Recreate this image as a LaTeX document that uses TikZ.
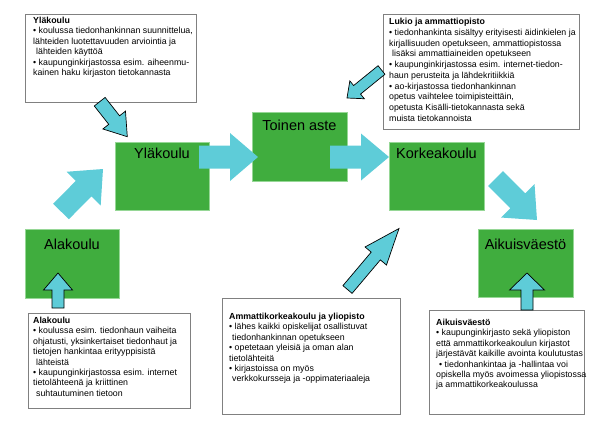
\documentclass[tikz,border=0pt]{standalone}
\usepackage{fontspec}
\setmainfont{Liberation Sans}
\usetikzlibrary{calc}
\definecolor{boxgreen}{RGB}{64,173,62}
\definecolor{boxgreenedge}{RGB}{150,215,150}
\definecolor{arrcyan}{RGB}{94,204,216}
\definecolor{framegray}{RGB}{128,128,128}
% block arrow: [style]{tail}{tip}{shaft half width}{head half width}{head length}
\newcommand{\blockarr}[6][]{%
  \coordinate (bah) at ($(#3)!#6!(#2)$);
  \path[blockarrow,#1] ($(#2)!#4!90:(#3)$) -- ($(bah)!#4!90:(#3)$) -- ($(bah)!#5!90:(#3)$) -- (#3)
     -- ($(bah)!#5!-90:(#3)$) -- ($(bah)!#4!-90:(#3)$) -- ($(#2)!#4!-90:(#3)$) -- cycle;}
\begin{document}
\begin{tikzpicture}[x=1pt,y=-1pt,
  greenbox/.style={draw=boxgreenedge, line width=0.8pt, fill=boxgreen, anchor=north west, inner sep=0pt},
  boxlabel/.style={font=\fontsize{14.5}{17}\selectfont, anchor=base, inner sep=0pt},
  infobox/.style={draw=framegray, line width=1pt, fill=white, anchor=north west, inner sep=0pt},
  infotext/.style={font=\fontsize{8.8}{10.4}\selectfont, align=left, anchor=north west, inner sep=0pt},
  blockarrow/.style={fill=arrcyan},
  outlined/.style={draw=black, line width=0.7pt, line join=miter}]
\useasboundingbox (0,0) rectangle (600,424);

% info boxes
\node[infobox, minimum width=171pt, minimum height=88pt] (ylabox) at (25,14) {};
\node[infotext] (ylatext) at (33,17) {\textbf{Yläkoulu}\\
• koulussa tiedonhankinnan suunnittelua,\\
lähteiden luotettavuuden arviointia ja\\
\hspace*{3pt}lähteiden käyttöä\\
• kaupunginkirjastossa esim. aiheenmu-\\
kainen haku kirjaston tietokannasta};

\node[infobox, minimum width=196pt, minimum height=115pt] (lukiobox) at (383,14) {};
\node[infotext, font=\fontsize{8.8}{10.75}\selectfont] (lukiotext) at (389,18) {\textbf{Lukio ja ammattiopisto}\\
• tiedonhankinta sisältyy erityisesti äidinkielen ja\\
kirjallisuuden opetukseen, ammattiopistossa\\
\hspace*{3pt}lisäksi ammattiaineiden opetukseen\\
• kaupunginkirjastossa esim. internet-tiedon-\\
haun perusteita ja lähdekritiikkiä\\
• ao-kirjastossa tiedonhankinnan\\
opetus vaihtelee toimipisteittäin,\\
opetusta Kisälli-tietokannasta sekä\\
muista tietokannoista};

\node[infobox, minimum width=162pt, minimum height=95pt] (alabox) at (28,313) {};
\node[infotext] (alatext) at (33,317) {\textbf{Alakoulu}\\
• koulussa esim. tiedonhaun vaiheita\\
ohjatusti, yksinkertaiset tiedonhaut ja\\
tietojen hankintaa erityyppisistä\\
\hspace*{3pt}lähteistä\\
• kaupunginkirjastossa esim. internet\\
tietolähteenä ja kriittinen\\
\hspace*{3pt}suhtautuminen tietoon};

\node[infobox, minimum width=178pt, minimum height=116pt] (ammbox) at (222,298) {};
\node[infotext] (ammtext) at (229,313) {\textbf{Ammattikorkeakoulu ja yliopisto}\\
• lähes kaikki opiskelijat osallistuvat\\
\hspace*{3pt}tiedonhankinnan opetukseen\\
• opetetaan yleisiä ja oman alan\\
tietolähteitä\\
• kirjastoissa on myös\\
\hspace*{3pt}verkkokursseja ja -oppimateriaaleja};

\node[infobox, minimum width=155pt, minimum height=104pt] (aikbox) at (429,310) {};
\node[infotext] (aiktext) at (436,319) {\textbf{Aikuisväestö}\\
• kaupunginkirjasto sekä yliopiston\\
että ammattikorkeakoulun kirjastot\\
järjestävät kaikille avointa koulutustas\\
\hspace*{3pt}• tiedonhankintaa ja -hallintaa voi\\
opiskella myös avoimessa yliopistossa\\
ja ammattikorkeakoulussa};

% green boxes
\node[greenbox, minimum width=94pt, minimum height=68pt] (yla) at (115,142) {};
\node[boxlabel] (ylalabel) at (162,158) {Yläkoulu};
\node[greenbox, minimum width=95pt, minimum height=69pt] (toinen) at (252,112) {};
\node[boxlabel] (toinenlabel) at (299.5,130) {Toinen aste};
\node[greenbox, minimum width=95pt, minimum height=68pt] (korkea) at (389,142) {};
\node[boxlabel] (korkealabel) at (436.5,158) {Korkeakoulu};
\node[greenbox, minimum width=94pt, minimum height=69pt] (ala) at (25,229) {};
\node[boxlabel] (alalabel) at (72,249) {Alakoulu};
\node[greenbox, minimum width=95pt, minimum height=68pt] (aikuis) at (478,229) {};
\node[boxlabel] (aikuislabel) at (525.5,249) {Aikuisväestö};

% arrow end points
\coordinate (a1t) at (199,157);   \coordinate (a1h) at (258,157);
\coordinate (a2t) at (330,157);   \coordinate (a2h) at (389,157);
\coordinate (a3t) at (61,211.5);  \coordinate (a3h) at (103,169);
\coordinate (a4t) at (99.7,101.7);\coordinate (a4h) at (127.3,136.7);
\coordinate (a5t) at (381.5,70);  \coordinate (a5h) at (347,98);
\coordinate (a6t) at (495.5,178.5);\coordinate (a6h) at (537,220);
\coordinate (a7t) at (347.5,289.5);\coordinate (a7h) at (399,228.5);
\coordinate (a8t) at (58,308);    \coordinate (a8h) at (58,273);
\coordinate (a9t) at (527,310);   \coordinate (a9h) at (527,273);

\blockarr{a1t}{a1h}{11.5pt}{24pt}{28pt}
\blockarr{a2t}{a2h}{11.5pt}{23.5pt}{28pt}
\blockarr{a3t}{a3h}{11pt}{24pt}{27.6pt}
\blockarr[outlined]{a4t}{a4h}{6.9pt}{14.4pt}{21.2pt}
\blockarr[outlined]{a5t}{a5h}{5.5pt}{11.5pt}{13pt}
\blockarr{a6t}{a6h}{10.6pt}{23.7pt}{27.2pt}
\blockarr[outlined]{a7t}{a7h}{6pt}{14pt}{36pt}
\blockarr[outlined]{a8t}{a8h}{6pt}{14.5pt}{17pt}
\blockarr[outlined]{a9t}{a9h}{6pt}{17.5pt}{17pt}
\end{tikzpicture}
\end{document}
